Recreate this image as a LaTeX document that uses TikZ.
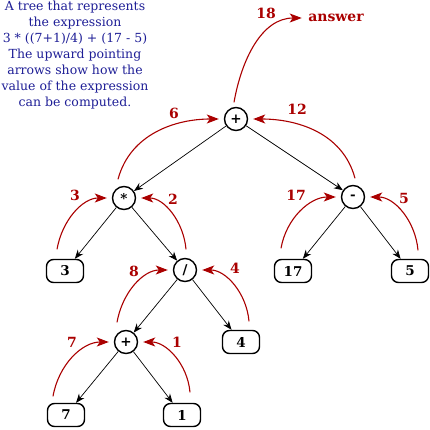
\documentclass[tikz,border=0pt]{standalone}
\usepackage{fontspec}
\setmainfont{DejaVu Serif}
\usetikzlibrary{arrows.meta, positioning}
\definecolor{capblue}{RGB}{30,30,150}
\definecolor{valred}{RGB}{170,0,0}

\begin{document}
\begin{tikzpicture}[
    on grid,
    every node/.style={font=\fontsize{13}{16}\selectfont},
    op/.style={circle, draw=black, line width=1.4pt, minimum size=23pt, inner sep=0pt, font=\fontsize{13.5}{16}\selectfont\bfseries},
    leaf/.style={rectangle, rounded corners=7pt, draw=black, line width=1.4pt, minimum width=37pt, minimum height=23pt, inner sep=0pt, font=\fontsize{13.5}{16}\selectfont\bfseries},
    lbl/.style={text=valred, font=\fontsize{14}{16}\selectfont\bfseries},
    link/.style={-{Stealth[length=9pt,width=7pt]}, line width=0.7pt},
    valarrow/.style={-{Stealth[length=12pt,width=9pt,inset=3pt]}, line width=1.1pt, valred, shorten >=5pt}
]
\useasboundingbox (0,0) rectangle (430pt,429pt);

% --- caption ---
\node[text=capblue, align=center, font=\fontsize{12.5}{16}\selectfont] (caption) at (75pt,374pt)
    {A tree that represents\\the expression\\3 * ((7+1)/4) + (17 - 5)\\The upward pointing\\arrows show how the\\value of the expression\\can be computed.};

% --- expression tree ---
\node[op] (root) at (236pt,310pt) {+};
\node[op, below left=79pt and 112pt of root]  (mul)   {*};
\node[op, below right=78pt and 117pt of root] (minus) {-};
\node[leaf, below left=73pt and 59pt of mul]  (three) {3};
\node[op, below right=72pt and 61pt of mul]   (div)   {/};
\node[leaf, below left=74pt and 60pt of minus]  (seventeen) {17};
\node[leaf, below right=74pt and 57pt of minus] (five)      {5};
\node[op, below left=72pt and 59pt of div]    (plus)  {+};
\node[leaf, below right=72pt and 56pt of div] (four)  {4};
\node[leaf, below left=73pt and 60pt of plus]  (seven) {7};
\node[leaf, below right=73pt and 56pt of plus] (one)   {1};

\node[lbl] (answer) at (336pt,411pt) {answer};

% --- tree edges ---
\draw[link] (root)  -- (mul);
\draw[link] (root)  -- (minus);
\draw[link] (mul)   -- (three);
\draw[link] (mul)   -- (div);
\draw[link] (minus) -- (seventeen);
\draw[link] (minus) -- (five);
\draw[link] (div)   -- (plus);
\draw[link] (div)   -- (four);
\draw[link] (plus)  -- (seven);
\draw[link] (plus)  -- (one);

% --- upward value arrows ---
\draw[valarrow] ([shift={(-13pt,6.5pt)}]seven.north) to[out=80, in=180] (plus.west);
\draw[valarrow] ([shift={(8pt,10.5pt)}]one.north) to[out=95, in=0] (plus.east);
\draw[valarrow] ([shift={(-9pt,7.5pt)}]plus.north) to[out=80, in=180] (div.west);
\draw[valarrow] ([shift={(8pt,8.5pt)}]four.north) to[out=95, in=0] (div.east);
\draw[valarrow] ([shift={(-8pt,9.5pt)}]three.north) to[out=80, in=180] (mul.west);
\draw[valarrow] ([shift={(1pt,8.5pt)}]div.north) to[out=95, in=0] (mul.east);
\draw[valarrow] ([shift={(-12pt,10.5pt)}]seventeen.north) to[out=80, in=180] (minus.west);
\draw[valarrow] ([shift={(8pt,8.5pt)}]five.north) to[out=95, in=0] (minus.east);
\draw[valarrow] ([shift={(-6pt,6.5pt)}]mul.north) to[out=75, in=180] (root.west);
\draw[valarrow] ([shift={(2pt,6.5pt)}]minus.north) to[out=105, in=0] (root.east);
\draw[valarrow, shorten >=3pt] ([shift={(-2pt,4.5pt)}]root.north) to[out=80, in=180] (answer.west);

% --- values ---
\node[lbl, left=54pt of plus]               (l7)  {7};
\node[lbl, right=51pt of plus]              (l1)  {1};
\node[lbl, left=51pt of div, yshift=-1pt]   (l8)  {8};
\node[lbl, right=50pt of div, yshift=2pt]   (l4)  {4};
\node[lbl, left=49pt of mul, yshift=3pt]    (l3)  {3};
\node[lbl, right=49pt of mul, yshift=-1pt]  (l2)  {2};
\node[lbl, left=57pt of minus, yshift=2pt]  (l17) {17};
\node[lbl, right=51pt of minus, yshift=-1pt] (l5) {5};
\node[lbl, left=62pt of root, yshift=6pt]   (l6)  {6};
\node[lbl, right=61pt of root, yshift=10pt] (l12) {12};
\node[lbl, left=70pt of answer, yshift=5pt] (l18) {18};
\end{tikzpicture}
\end{document}
